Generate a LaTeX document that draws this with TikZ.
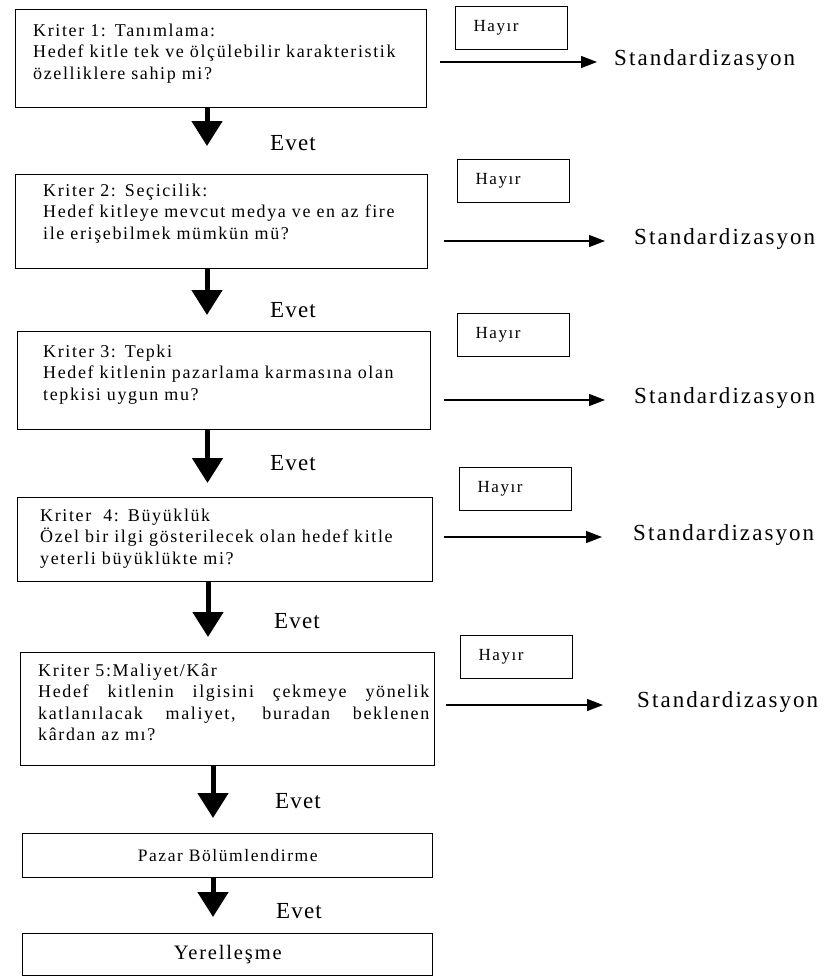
\documentclass[tikz,border=0pt]{standalone}
\usepackage{fontspec}
\setmainfont{Liberation Serif}
\newfontfamily\txtfont[LetterSpace=9,WordSpace=1.8]{Liberation Serif}
\newfontfamily\bigfont[LetterSpace=9]{Liberation Serif}
\newfontfamily\evetfont[LetterSpace=5]{Liberation Serif}
\usetikzlibrary{arrows.meta}
\begin{document}
\begin{tikzpicture}[x=1pt,y=-1pt,
  critbox/.style={draw, line width=1.4pt, inner sep=0pt, anchor=north west},
  btext/.style={anchor=base west, inner sep=0pt, text width=400pt, align=left,
    font=\txtfont\fontsize{18}{21.5}\selectfont},
  hbx/.style={critbox, minimum width=112pt, minimum height=43pt, text width=76pt,
    inner xsep=18pt, inner ysep=0pt, align=left, font=\txtfont\fontsize{17}{20}\selectfont},
  stext/.style={anchor=base west, inner sep=0pt, font=\bigfont\fontsize{23}{28}\selectfont},
  etext/.style={anchor=base west, inner sep=0pt, font=\evetfont\fontsize{23}{28}\selectfont},
  downarrow/.style={line width=5pt, -{Triangle[width=30pt,length=25pt]}},
  harrow/.style={line width=1.3pt, -{Triangle[length=16pt,width=12pt]}}
]
\useasboundingbox (0,0) rectangle (827,977);

% criterion boxes
\node[critbox, minimum width=411pt, minimum height=98pt] (b1) at (15,9) {};
\node[critbox, minimum width=412pt, minimum height=94pt] (b2) at (15,174) {};
\node[critbox, minimum width=413pt, minimum height=98pt] (b3) at (17,331) {};
\node[critbox, minimum width=415pt, minimum height=84pt] (b4) at (17,497) {};
\node[critbox, minimum width=414pt, minimum height=113pt] (b5) at (20,652) {};
\node[critbox, minimum width=410pt, minimum height=44pt, font=\txtfont\fontsize{17.5}{20}\selectfont] (b6) at (22,833) {Pazar Bölümlendirme};
\node[critbox, minimum width=410pt, minimum height=42pt, font=\txtfont\fontsize{20.5}{24}\selectfont] (b7) at (22,933) {Yerelleşme};

% texts in boxes
\node[btext] (t1) at (33,36) {Kriter 1: Tanımlama:\\Hedef kitle tek ve ölçülebilir karakteristik\\özelliklere sahip mi?};
\node[btext] (t2) at (43,196) {Kriter 2: Seçicilik:\\Hedef kitleye mevcut medya ve en az fire\\ile erişebilmek mümkün mü?};
\node[btext] (t3) at (43,357) {Kriter 3: Tepki\\Hedef kitlenin pazarlama karmasına olan\\tepkisi uygun mu?};
\node[btext] (t4) at (40,521) {Kriter\ \ 4: Büyüklük\\Özel bir ilgi gösterilecek olan hedef kitle\\yeterli büyüklükte mi?};
\node[btext, text width=391pt, align=justify] (t5) at (38,676) {Kriter 5:Maliyet/Kâr\\Hedef kitlenin ilgisini çekmeye yönelik\linebreak katlanılacak maliyet, buradan beklenen\linebreak kârdan az mı?};

% Hayir boxes
\node[hbx] (h1) at (455,6) {Hayır};
\node[hbx] (h2) at (457,159) {Hayır};
\node[hbx] (h3) at (457,313) {Hayır};
\node[hbx] (h4) at (459,467) {Hayır};
\node[hbx] (h5) at (460,635) {Hayır};

% Standardizasyon
\node[stext] (s1) at (614,65) {Standardizasyon};
\node[stext] (s2) at (634,244) {Standardizasyon};
\node[stext] (s3) at (634,403) {Standardizasyon};
\node[stext] (s4) at (633,540) {Standardizasyon};
\node[stext] (s5) at (637,707) {Standardizasyon};

\coordinate (a1) at (597,62);
\coordinate (a2) at (605,241);
\coordinate (a3) at (605,400);
\coordinate (a4) at (602,537);
\coordinate (a5) at (603,705);
\draw[harrow] ([xshift=13pt]b1.east |- a1) -- (a1);
\draw[harrow] ([xshift=16pt]b2.east |- a2) -- (a2);
\draw[harrow] ([xshift=13pt]b3.east |- a3) -- (a3);
\draw[harrow] ([xshift=11pt]b4.east |- a4) -- (a4);
\draw[harrow] ([xshift=11pt]b5.east |- a5) -- (a5);

% Evet
\node[etext] (e1) at (270,150) {Evet};
\node[etext] (e2) at (270,317) {Evet};
\node[etext] (e3) at (270,470) {Evet};
\node[etext] (e4) at (274,628) {Evet};
\node[etext] (e5) at (275,808) {Evet};
\node[etext] (e6) at (276,918) {Evet};

% down arrows
\coordinate (d1) at (207,146);
\coordinate (d2) at (207,315);
\coordinate (d3) at (207.5,483);
\coordinate (d4) at (208,637);
\coordinate (d5) at (213,818);
\coordinate (d6) at (213,917);
\draw[downarrow] (b1.south -| d1) -- (d1);
\draw[downarrow] (b2.south -| d2) -- (d2);
\draw[downarrow] (b3.south -| d3) -- (d3);
\draw[downarrow] (b4.south -| d4) -- (d4);
\draw[downarrow] (b5.south -| d5) -- (d5);
\draw[downarrow] (b6.south -| d6) -- (d6);
\end{tikzpicture}
\end{document}
